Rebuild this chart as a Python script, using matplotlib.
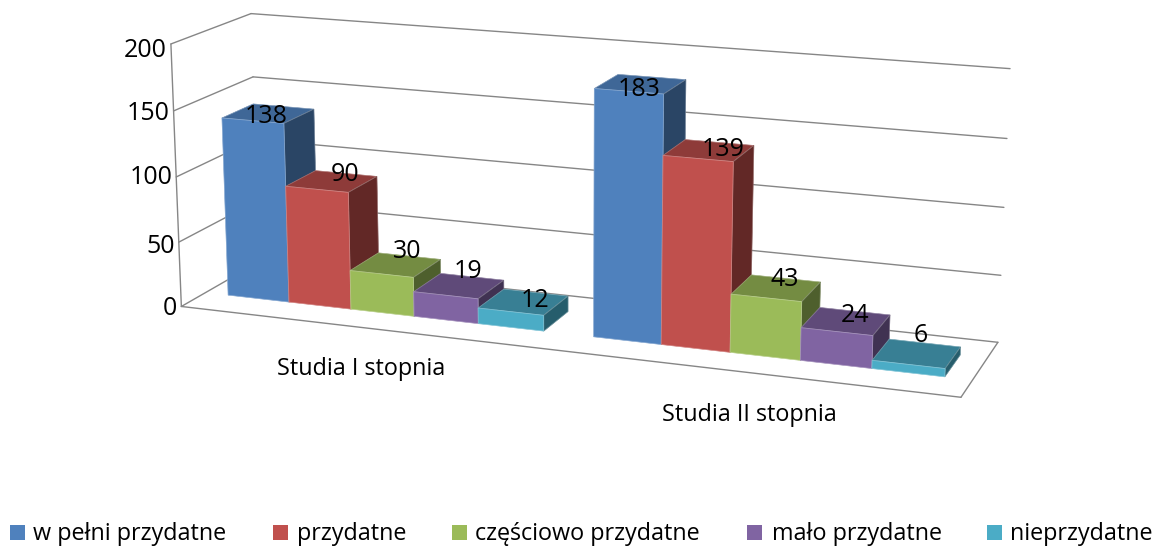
import numpy as np
import matplotlib
matplotlib.use('Agg')
import matplotlib.pyplot as plt
from matplotlib.patches import Polygon, Rectangle

categories = ['Studia I stopnia', 'Studia II stopnia']
series = ['w pełni przydatne', 'przydatne', 'częściowo przydatne', 'mało przydatne', 'nieprzydatne']
values = [
    [138, 90, 30, 19, 12],
    [183, 139, 43, 24, 6],
]
yticks = [0, 50, 100, 150, 200]

front_colors = ['#4F81BD', '#C0504D', '#9BBB59', '#8064A2', '#4BACC6']
top_colors = ['#3F6797', '#8E3B39', '#748C42', '#5F4A79', '#387F94']
side_colors = ['#2A4565', '#622826', '#4E5F2D', '#403252', '#265D6C']

bar_w = 1 / 5.75
gap = 0.75 / 5.75 / 2
z0, z1 = 0.3, 0.7

# (category x, value, depth) -> pixel, used to fit the camera of the 3d chart
anchors = [
    (0, 0, 0, 181, 306), (0, 50, 0, 179, 241), (0, 100, 0, 176, 176), (0, 150, 0, 175, 110),
    (0, 200, 0, 169, 45), (0, 200, 1, 251, 13), (0, 150, 1, 254, 76), (0, 0, 1, 258, 263),
    (2, 200, 1, 1010, 68), (2, 0, 1, 998, 342), (2, 0, 0, 962, 398),
    (gap, 0, z0, 229, 296), (gap, 138, z0, 222, 118), (gap + bar_w, 138, z0, 284, 124),
    (gap + bar_w, 0, z0, 289, 302), (gap, 138, z1, 253, 104), (gap + bar_w, 138, z1, 314, 110),
    (1 + gap, 0, z0, 593, 337), (1 + gap, 183, z0, 595, 90), (1 + gap + bar_w, 183, z0, 663, 94),
    (1 + gap + 5 * bar_w, 0, z0, 944, 376),
]

# Excel nudges the data labels, so these are pixel shifts from the bar top centre
label_shift = [
    [(-2, 3), (13, -7), (12, -13), (9, -14), (12, -2)],
    [(-1, 5), (14, -1), (9, -9), (9, -6), (4, -18)],
]
tick_shift = [2, 4, 1, 3, 7]


def fit_camera(points):
    rows = []
    for x, v, z, px, py in points:
        p = [x, v / 100, z, 1]
        rows.append(p + [0, 0, 0, 0] + [-px * c for c in p])
        rows.append([0, 0, 0, 0] + p + [-py * c for c in p])
    _, _, vt = np.linalg.svd(np.array(rows, dtype=float))
    return vt[-1].reshape(3, 4)


cam = fit_camera(anchors)


def project(x, v, z):
    u = cam @ np.array([x, v / 100, z, 1.0])
    return u[0] / u[2], u[1] / u[2]


def line3(ax, a, b, color='#868686', lw=1.0):
    pa, pb = project(*a), project(*b)
    ax.plot([pa[0], pb[0]], [pa[1], pb[1]], color=color, lw=lw, solid_capstyle='round', zorder=1)


def face(ax, corners, color):
    pts = [project(*c) for c in corners]
    ax.add_patch(Polygon(pts, closed=True, facecolor=color, edgecolor=color, lw=0.4, zorder=2))
    ax.add_patch(Polygon(pts, closed=True, fill=False, edgecolor='white', alpha=0.25, lw=0.6, zorder=2))


plt.rcParams['font.family'] = ['Open Sans', 'DejaVu Sans']

fig = plt.figure(figsize=(11.57, 5.47), dpi=100)
ax = fig.add_axes([0, 0, 1, 1])
ax.set_xlim(0, 1157)
ax.set_ylim(547, 0)
ax.axis('off')

# walls
for n, t in enumerate(yticks):
    line3(ax, (0, t, 0), (0, t, 1))
    line3(ax, (0, t, 1), (2, t, 1))
    px, py = project(0, t, 0)
    ax.text(px - 4, py + tick_shift[n], str(t), ha='right', va='center', fontsize=18, color='black')
line3(ax, (0, 0, 0), (0, 200, 0))
line3(ax, (0, 0, 0), (2, 0, 0))
line3(ax, (2, 0, 0), (2, 0, 1))

# bars
for k, group in enumerate(values):
    for i, val in enumerate(group):
        x0 = k + gap + i * bar_w
        x1 = x0 + bar_w
        face(ax, [(x0, val, z0), (x1, val, z0), (x1, val, z1), (x0, val, z1)], top_colors[i])
        face(ax, [(x1, 0, z0), (x1, val, z0), (x1, val, z1), (x1, 0, z1)], side_colors[i])
        face(ax, [(x0, 0, z0), (x1, 0, z0), (x1, val, z0), (x0, val, z0)], front_colors[i])

for k, group in enumerate(values):
    for i, val in enumerate(group):
        px, py = project(k + gap + (i + 0.5) * bar_w, val, 0.5)
        dx, dy = label_shift[k][i]
        ax.text(px + dx, py + dy, str(val), ha='center', va='center', fontsize=18, color='black', zorder=5)

# category labels
for k, name in enumerate(categories):
    px, py = project(k + 0.5, 0, 0)
    ax.text(px, py + 42, name, ha='center', va='center', fontsize=16.8, color='black')

# legend
swatch_x = [10, 273, 452, 747, 987]
text_x = [33, 297, 475, 772, 1010]
for i, name in enumerate(series):
    ax.add_patch(Rectangle((swatch_x[i], 525), 15, 15, facecolor=front_colors[i], edgecolor='none'))
    ax.text(text_x[i], 534, name, ha='left', va='center', fontsize=16.8, color='black')

fig.savefig('out.png', dpi=100)
